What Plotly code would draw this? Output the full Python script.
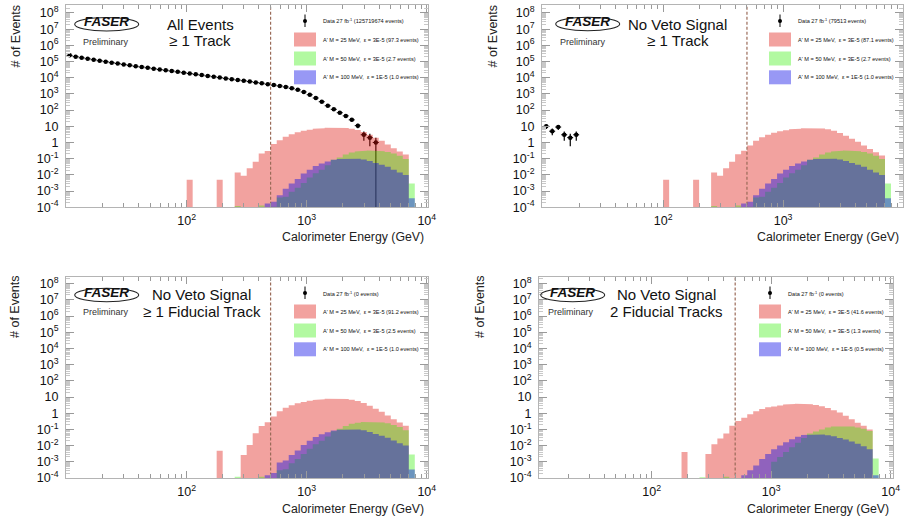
import numpy as np
import plotly.graph_objects as go

W, H = 912, 523
FONT = "Liberation Sans, Arial, Helvetica, sans-serif"

# ---------------- binning: 20 log bins / decade, 10 GeV .. 10 TeV ----------------
N_BINS = 60
BINS_PER_DECADE = 20
LOG_EMIN = 1.0
CUT_ENERGY = 500.0

# ---------------- data (counts per bin, starting at bin 0) ----------------
DATA_TL = [240000, 200000, 170000, 148000, 129000, 112000, 98000, 85000, 76000, 66000,
           59000, 51000, 46000, 41000, 36000, 32000, 29000, 26000, 23000, 20400,
           18200, 16200, 14500, 12900, 11500, 10200, 9100, 8100, 7200, 6500,
           5800, 5100, 4600, 4000, 3500, 3100, 2700, 2240, 1780, 1320,
           890, 560, 330, 186, 112, 69, 44, 25, 11, 3, 2, 1]
DATA_TR = [10, 5, 9, 3, 2, 3]

# ---------------- signal MC (events per bin), each list starts at bin *_START ----------------
RED_TL_START = 20
RED_TL = [0.005, 0, 0, 0, 0, 0.005, 0, 0,
          0.014, 0.009, 0.026, 0.066, 0.21, 0.30, 0.80, 1.4, 2.3, 3.2, 4.3, 5.3,
          6.2, 7.0, 7.7, 8.2, 8.4, 8.3, 7.9, 7.1, 5.9, 4.4, 3.0, 2.0, 1.3, 0.75,
          0.45, 0.28, 0.18]
GREEN_TL_START = 28
GREEN_TL = [1.2e-4, 0, 0, 0, 1.3e-4, 0, 1.1e-4, 4e-4, 4.5e-4, 9e-4, 1.6e-3, 3.2e-3,
            7e-3, 0.0126, 0.021, 0.04, 0.085, 0.12, 0.18, 0.24, 0.28, 0.31, 0.32,
            0.31, 0.29, 0.26, 0.21, 0.15, 0.095, 0.003]
BLUE_TL_START = 33
BLUE_TL = [1.7e-4, 2.2e-4, 5.6e-4, 1.4e-3, 2.9e-3, 5.5e-3, 0.012, 0.021, 0.035,
           0.051, 0.068, 0.086, 0.097, 0.103, 0.104, 0.1, 0.089, 0.071, 0.054,
           0.042, 0.032, 0.021, 0.014, 0.01, 3.6e-4]

RED_TR_START = 20
RED_TR = [0.005, 0, 0, 0, 0, 0.005, 0, 0,
          0.014, 0.009, 0.026, 0.066, 0.19, 0.31, 0.65, 1.3, 2.1, 3.0, 4.0, 4.9,
          5.8, 6.6, 7.2, 7.7, 7.9, 7.8, 7.3, 6.5, 5.3, 3.9, 2.6, 1.7, 1.1, 0.65,
          0.4, 0.25, 0.16]
GREEN_TR_START = 28
GREEN_TR = [1.2e-4, 0, 0, 0, 1.3e-4, 0, 1.1e-4, 4e-4, 4.5e-4, 9e-4, 1.6e-3, 3.2e-3,
            7e-3, 0.0126, 0.021, 0.04, 0.085, 0.12, 0.18, 0.24, 0.28, 0.31, 0.32,
            0.31, 0.29, 0.26, 0.21, 0.15, 0.095, 0.003]
BLUE_TR_START = 33
BLUE_TR = [1.7e-4, 2.2e-4, 5.6e-4, 1.4e-3, 2.9e-3, 5.5e-3, 0.012, 0.021, 0.035,
           0.051, 0.068, 0.086, 0.097, 0.103, 0.104, 0.1, 0.089, 0.071, 0.054,
           0.042, 0.032, 0.021, 0.014, 0.01, 3.6e-4]

RED_BL_START = 25
RED_BL = [0.0048, 0, 0, 0,
          0.0026, 0.011, 0.057, 0.16, 0.28, 0.63, 1.3, 2.2, 3.1, 4.1, 5.0, 5.9,
          6.6, 7.3, 7.8, 8.0, 7.9, 7.5, 6.7, 5.6, 4.2, 2.9, 1.9, 1.25, 0.72, 0.43,
          0.27, 0.17]
GREEN_BL_START = 28
GREEN_BL = [1.2e-4, 0, 0, 0, 1.2e-4, 0, 0, 3e-4, 3.5e-4, 8e-4, 1.5e-3, 3e-3,
            6.5e-3, 0.012, 0.02, 0.037, 0.078, 0.11, 0.165, 0.22, 0.26, 0.29, 0.3,
            0.29, 0.27, 0.24, 0.19, 0.14, 0.088, 0.0028]
BLUE_BL_START = 33
BLUE_BL = [1.5e-4, 2.0e-4, 9e-4, 1.2e-3, 2.6e-3, 5e-3, 0.011, 0.02, 0.034,
           0.05, 0.067, 0.085, 0.096, 0.102, 0.103, 0.099, 0.088, 0.07, 0.053,
           0.041, 0.031, 0.021, 0.014, 0.01, 3.4e-4]

RED_BR_START = 25
RED_BR = [0.004, 0, 0, 0,
          0.003, 0.012, 0.027, 0.056, 0.17, 0.33, 0.53, 0.85, 1.3, 1.8, 2.3, 2.6,
          3.0, 3.4, 3.7, 3.8, 3.8, 3.6, 3.2, 2.7, 2.1, 1.5, 1.1, 0.7, 0.42, 0.26,
          0.17, 0.1]
GREEN_BR_START = 28
GREEN_BR = [1.1e-4, 0, 0, 0, 1.2e-4, 0, 0, 0, 0, 0, 0, 0,
            1e-3, 2e-3, 4e-3, 8e-3, 0.015, 0.03, 0.055, 0.075, 0.1, 0.13, 0.15,
            0.16, 0.16, 0.15, 0.13, 0.11, 0.08, 1.6e-3]
BLUE_BR_START = 35
BLUE_BR = [1.5e-4, 3e-4, 6e-4, 1.5e-3, 3e-3, 6e-3, 0.01, 0.016, 0.025, 0.035,
           0.045, 0.05, 0.05, 0.048, 0.044, 0.038, 0.03, 0.024, 0.018, 0.013,
           0.009, 0.006, 1.5e-4]

# ---------------- texts ----------------
TITLES = [["All Events", "\u2265 1 Track"],
          ["No Veto Signal", "\u2265 1 Track"],
          ["No Veto Signal", "\u2265 1 Fiducial Track"],
          ["No Veto Signal", "2 Fiducial Tracks"]]
DATA_EVENTS = ["125719674", "79513", "0", "0"]
RED_EVENTS = ["97.3", "87.1", "91.2", "41.6"]
GREEN_EVENTS = ["2.7", "2.7", "2.5", "1.3"]
BLUE_EVENTS = ["1.0", "1.0", "1.0", "0.5"]
X_TITLE = "Calorimeter Energy (GeV)"
Y_TITLE = "# of Events"

# ---------------- style ----------------
RED_FILL = "rgba(222,22,14,0.40)"
GREEN_FILL = "rgba(46,240,0,0.37)"
BLUE_FILL = "rgba(10,10,230,0.42)"
FRAME = "#b4b4b4"
TICK = "#9a9a9a"
CUT_COLOR = "#9a6b58"

edges = 10 ** (LOG_EMIN + np.arange(N_BINS + 1) / BINS_PER_DECADE)


def full(start, vals):
    arr = np.zeros(N_BINS)
    arr[start:start + len(vals)] = vals
    return arr


def px(x):
    return x / W


def py(y):
    return 1 - y / H


panels = [
    dict(L=66, R=428, T=5, B=207.3, xr=[0.995, 4.01], yr=[-4, 8.49],
         data=DATA_TL, red=full(RED_TL_START, RED_TL), green=full(GREEN_TL_START, GREEN_TL),
         blue=full(BLUE_TL_START, BLUE_TL),
         tx=200, ty=[24, 40.7], logo=(106.7, 22), prel=(106.3, 41.7), ytx=15, yty=36.5, xty=237),
    dict(L=542, R=903, T=5, B=207.3, xr=[0.99, 4.0], yr=[-4, 8.49],
         data=DATA_TR, red=full(RED_TR_START, RED_TR), green=full(GREEN_TR_START, GREEN_TR),
         blue=full(BLUE_TR_START, BLUE_TR),
         tx=677.7, ty=[24, 40.7], logo=(587.7, 21.7), prel=(583.2, 41.7), ytx=492, yty=36.5, xty=237),
    dict(L=66, R=428, T=277, B=478, xr=[0.995, 4.01], yr=[-4, 8.41],
         data=None, red=full(RED_BL_START, RED_BL), green=full(GREEN_BL_START, GREEN_BL),
         blue=full(BLUE_BL_START, BLUE_BL),
         tx=201.7, ty=[294.7, 311.3], logo=(106.7, 292.7), prel=(106.3, 312), ytx=15, yty=307, xty=509),
    dict(L=539, R=893, T=277, B=478, xr=[1.057, 4.02], yr=[-4, 8.41],
         data=None, red=full(RED_BR_START, RED_BR), green=full(GREEN_BR_START, GREEN_BR),
         blue=full(BLUE_BR_START, BLUE_BR),
         tx=666.7, ty=[294.7, 311.3], logo=(572.7, 292.7), prel=(571.3, 312), ytx=480, yty=307, xty=509),
]

FLOOR = 1e-7


def step_poly(vals):
    xs, ys = [edges[0]], [FLOOR]
    for i, v in enumerate(vals):
        v = v if v > 0 else FLOOR
        xs += [edges[i], edges[i + 1]]
        ys += [v, v]
    xs.append(edges[-1])
    ys.append(FLOOR)
    return xs, ys


fig = go.Figure()
layout = dict(autosize=True, margin=dict(l=0, r=0, t=0, b=0, autoexpand=False),
              paper_bgcolor="white", plot_bgcolor="white", showlegend=False,
              font=dict(family=FONT, color="#111"))
annotations, shapes = [], []

y_major = [10.0 ** e for e in range(-4, 9)]
y_text = []
for e in range(-4, 9):
    if e == 0:
        y_text.append("1")
    elif e == 1:
        y_text.append("10")
    else:
        y_text.append("10<sup>%d</sup>" % e)
y_minor = [m * 10.0 ** e for e in range(-4, 9) for m in range(2, 10)]
x_major = [100, 1000, 10000]
x_text = ["10<sup>2</sup>", "10<sup>3</sup>", "10<sup>4</sup>"]
x_minor = [m * 10.0 ** e for e in range(1, 4) for m in range(2, 10)]

for i, p in enumerate(panels):
    n = "" if i == 0 else str(i + 1)
    xa, ya = "x" + n, "y" + n
    layout["xaxis" + n] = dict(
        type="log", range=p["xr"], domain=[px(p["L"]), px(p["R"])], anchor=ya,
        showline=True, linecolor=FRAME, linewidth=1, mirror="ticks", automargin=False,
        ticks="inside", ticklen=7, tickcolor=TICK, tickwidth=1,
        tickvals=x_major, ticktext=x_text, tickfont=dict(size=12.5, color="#111"),
        showgrid=False, zeroline=False, ticklabelstandoff=2,
        minor=dict(ticks="inside", ticklen=4, tickcolor=TICK, tickvals=x_minor, showgrid=False))
    layout["yaxis" + n] = dict(
        type="log", range=p["yr"], domain=[py(p["B"]), py(p["T"])], anchor=xa,
        showline=True, linecolor=FRAME, linewidth=1, mirror="ticks", automargin=False,
        ticks="inside", ticklen=8, tickcolor=TICK, tickwidth=1,
        tickvals=y_major, ticktext=y_text, tickfont=dict(size=12.5, color="#111"),
        showgrid=False, zeroline=False, ticklabelstandoff=4,
        minor=dict(ticks="inside", ticklen=4, tickcolor="#c8c8c8", tickvals=y_minor, showgrid=False))

    # data points
    if p["data"] is not None:
        cnt = np.array(p["data"], float)
        k = len(cnt)
        lo, hi = edges[:k], edges[1:k + 1]
        c = (lo + hi) / 2
        err = np.sqrt(cnt)
        errm = np.minimum(err, cnt - 1.02e-4)
        fig.add_trace(go.Scatter(
            x=c, y=cnt, mode="markers", xaxis=xa, yaxis=ya,
            marker=dict(color="black", size=4.5, symbol="circle"),
            error_x=dict(type="data", symmetric=False, array=hi - c, arrayminus=c - lo,
                         color="black", thickness=1, width=0),
            error_y=dict(type="data", symmetric=False, array=err, arrayminus=errm,
                         color="black", thickness=1.2, width=0)))

    # signal histograms (drawn over data, with transparency)
    for vals, col in ((p["red"], RED_FILL), (p["green"], GREEN_FILL), (p["blue"], BLUE_FILL)):
        xs, ys = step_poly(vals)
        fig.add_trace(go.Scatter(x=xs, y=ys, mode="lines", fill="toself", fillcolor=col,
                                 line=dict(width=0, color=col), xaxis=xa, yaxis=ya,
                                 hoverinfo="skip"))

    # cut line at 500 GeV
    fig.add_trace(go.Scatter(x=[CUT_ENERGY, CUT_ENERGY], y=[1e-6, 1e10], mode="lines",
                             line=dict(color=CUT_COLOR, width=1.2, dash="3px,2px"),
                             xaxis=xa, yaxis=ya, hoverinfo="skip"))

    # titles
    for line, yy in zip(TITLES[i], p["ty"]):
        annotations.append(dict(x=px(p["tx"]), y=py(yy), xref="paper", yref="paper",
                                text=line, showarrow=False, xanchor="center", yanchor="middle",
                                font=dict(size=15, color="#111")))
    # FASER logo
    lx, ly = p["logo"]
    shapes.append(dict(type="circle", xref="paper", yref="paper",
                       x0=px(lx - 32), x1=px(lx + 32), y0=py(ly - 4.5), y1=py(ly + 9),
                       line=dict(color="#222", width=1.1)))
    annotations.append(dict(x=px(lx), y=py(ly), xref="paper", yref="paper",
                            text="<b><i>FASER</i></b>", showarrow=False,
                            xanchor="center", yanchor="middle",
                            font=dict(size=13.5, color="#111", family=FONT)))
    annotations.append(dict(x=px(p["prel"][0]), y=py(p["prel"][1]), xref="paper", yref="paper",
                            text="Preliminary", showarrow=False, xanchor="center", yanchor="middle",
                            font=dict(size=9, color="#333")))
    # axis titles
    annotations.append(dict(x=px(p["ytx"]), y=py(p["yty"]), xref="paper", yref="paper",
                            text=Y_TITLE, textangle=-90, showarrow=False,
                            xanchor="center", yanchor="middle", font=dict(size=12.5, color="#222")))
    annotations.append(dict(x=px(p["R"] - 2), y=py(p["xty"]), xref="paper", yref="paper",
                            text=X_TITLE, showarrow=False, xanchor="right", yanchor="middle",
                            font=dict(size=12.3, color="#222")))

    # legend
    R, T = p["R"], p["T"]
    mx = R - 123
    shapes.append(dict(type="line", xref="paper", yref="paper", x0=px(mx), x1=px(mx),
                       y0=py(T + 9.5), y1=py(T + 22), line=dict(color="black", width=1)))
    shapes.append(dict(type="circle", xref="paper", yref="paper", x0=px(mx - 2), x1=px(mx + 2),
                       y0=py(T + 18), y1=py(T + 14), fillcolor="black", line=dict(width=0)))
    tx0 = R - 107.3
    leg = [("Data 27 fb<sup>-1</sup> (%s events)" % DATA_EVENTS[i], T + 16, None),
           ("A' M = 25 MeV,  \u03b5 = 3E-5 (%s events)" % RED_EVENTS[i], T + 34.5, RED_FILL),
           ("A' M = 50 MeV,  \u03b5 = 3E-5 (%s events)" % GREEN_EVENTS[i], T + 53.5, GREEN_FILL),
           ("A' M = 100 MeV,  \u03b5 = 1E-5 (%s events)" % BLUE_EVENTS[i], T + 72.3, BLUE_FILL)]
    for text, yy, col in leg:
        if col is not None:
            shapes.append(dict(type="rect", xref="paper", yref="paper",
                               x0=px(R - 134), x1=px(R - 112), y0=py(yy + 7), y1=py(yy - 7),
                               fillcolor=col, line=dict(width=0)))
        annotations.append(dict(x=px(tx0), y=py(yy), xref="paper", yref="paper", text=text,
                                showarrow=False, xanchor="left", yanchor="middle",
                                font=dict(size=5.6, color="#111")))

layout["annotations"] = annotations
layout["shapes"] = shapes
fig.update_layout(**layout)
POST = ("document.documentElement.style.margin='0px';"
        "document.documentElement.style.overflow='hidden';"
        "document.body.style.margin='0px';"
        "document.body.style.overflow='hidden';"
        "var gd=document.getElementById('{plot_id}');"
        "Plotly.relayout(gd,{width:window.innerWidth,height:window.innerHeight});")
fig.write_html("out.html", config={"displayModeBar": False, "responsive": True},
               default_width="100vw", default_height="100vh", post_script=[POST])
